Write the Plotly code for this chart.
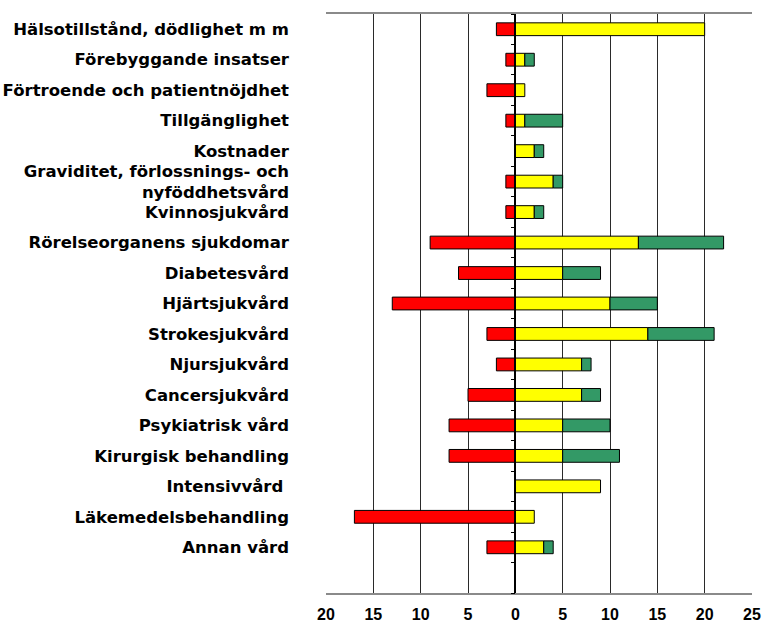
import plotly.graph_objects as go

categories = [
    "Hälsotillstånd, dödlighet m m",
    "Förebyggande insatser",
    "Förtroende och patientnöjdhet",
    "Tillgänglighet",
    "Kostnader",
    "Graviditet, förlossnings- och<br>nyföddhetsvård",
    "Kvinnosjukvård",
    "Rörelseorganens sjukdomar",
    "Diabetesvård",
    "Hjärtsjukvård",
    "Strokesjukvård",
    "Njursjukvård",
    "Cancersjukvård",
    "Psykiatrisk vård",
    "Kirurgisk behandling",
    "Intensivvård\u00a0",
    "Läkemedelsbehandling",
    "Annan vård",
]
red_values = [-2, -1, -3, -1, None, -1, -1, -9, -6, -13, -3, -2, -5, -7, -7, None, -17, -3]
yellow_values = [20, 1, 1, 1, 2, 4, 2, 13, 5, 10, 14, 7, 7, 5, 5, 9, 2, 3]
green_values = [None, 1, None, 4, 1, 1, 1, 9, 4, 5, 7, 1, 2, 5, 6, None, None, 1]

x_tick_vals = [-20, -15, -10, -5, 0, 5, 10, 15, 20, 25]
x_tick_text = ["20", "15", "10", "5", "0", "5", "10", "15", "20", "25"]

positions = list(range(len(categories)))
boundaries = [p - 0.5 for p in positions] + [len(categories) - 0.5, len(categories) + 0.5]

fig = go.Figure()
for vals, color in [(red_values, "#FF0000"), (yellow_values, "#FFFF00"), (green_values, "#339966")]:
    fig.add_trace(go.Bar(
        y=positions, x=vals, orientation="h",
        marker=dict(color=color, line=dict(color="black", width=1)),
        showlegend=False, hoverinfo="skip",
    ))

x_min, x_max = -20, 25
fig.update_layout(
    width=765, height=624,
    margin=dict(l=326, r=13, t=14, b=31, autoexpand=False),
    paper_bgcolor="white", plot_bgcolor="white",
    barmode="relative", bargap=0.58,
    xaxis=dict(
        range=[x_min, x_max], tickvals=x_tick_vals, ticktext=x_tick_text,
        showgrid=True, gridcolor="#2a2a2a", gridwidth=1,
        zeroline=False, showline=True, linecolor="#8a8a8a", linewidth=1.5, mirror=True,
        ticks="", ticklabelstandoff=6, automargin=False,
        tickfont=dict(family="Liberation Sans", size=16, color="black", weight="bold"),
        fixedrange=True,
    ),
    yaxis=dict(
        range=[len(categories) + 0.5, -0.5], tickvals=positions, ticktext=categories,
        showgrid=False, zeroline=False, showline=False, ticks="",
        ticklabelstandoff=36, automargin=False,
        tickfont=dict(family="DejaVu Sans", size=16.5, color="black", weight="bold"),
    ),
    yaxis2=dict(
        overlaying="y", anchor="free", position=(0 - x_min) / (x_max - x_min),
        range=[len(categories) + 0.5, -0.5], tickvals=boundaries,
        showticklabels=False, showgrid=False, zeroline=False, automargin=False,
        showline=True, linecolor="black", linewidth=1.5,
        ticks="outside", ticklen=4, tickcolor="black", side="left",
    ),
)
fig.add_trace(go.Scatter(x=[None], y=[None], yaxis="y2", showlegend=False, hoverinfo="skip"))
fig.write_html(
    "out.html",
    config={"displayModeBar": False},
    post_script="document.body.style.margin='0';document.body.style.overflow='hidden';",
)
